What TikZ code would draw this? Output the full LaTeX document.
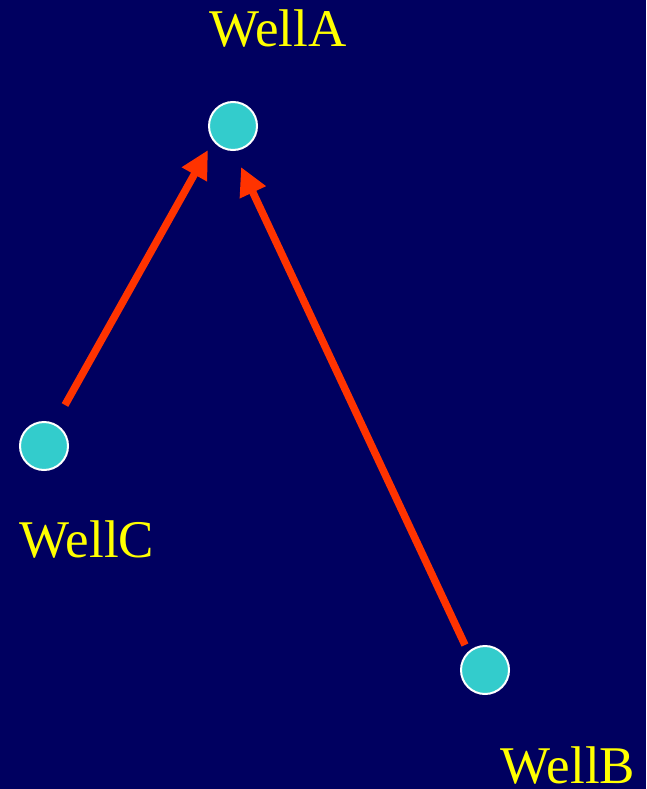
\documentclass[tikz,border=0pt]{standalone}
\usepackage{fontspec}
\setmainfont{Liberation Serif}
\usetikzlibrary{arrows.meta}
\definecolor{bg}{HTML}{000060}
\definecolor{well}{HTML}{33CCCC}
\definecolor{arr}{HTML}{FF3300}
\definecolor{lab}{HTML}{FFFF00}
\begin{document}
\begin{tikzpicture}[x=1pt,y=-1pt,
  wellnode/.style={circle,fill=well,draw=white,line width=2pt,minimum size=48pt,inner sep=0pt},
  welllabel/.style={text=lab,anchor=base,font=\fontsize{53}{62}\selectfont,inner sep=0pt},
  flow/.style={draw=arr,line width=7.5pt,-{Triangle[length=28pt,width=27pt]}}]
\fill[bg] (0,0) rectangle (646,789);
\useasboundingbox (0,0) rectangle (646,789);
\node[wellnode] (A) at (233,126) {};
\node[wellnode] (C) at (44,446) {};
\node[wellnode] (B) at (485,670) {};
\node[welllabel] (lA) at (278,47) {WellA};
\node[welllabel] (lC) at (87,557) {WellC};
\node[welllabel] (lB) at (568,783) {WellB};
\coordinate (cs) at (65,405);
\coordinate (ct) at (208,150);
\coordinate (bs) at (465,645);
\coordinate (bt) at (241,167);
\draw[flow] (cs) -- (ct);
\draw[flow] (bs) -- (bt);
\end{tikzpicture}
\end{document}
